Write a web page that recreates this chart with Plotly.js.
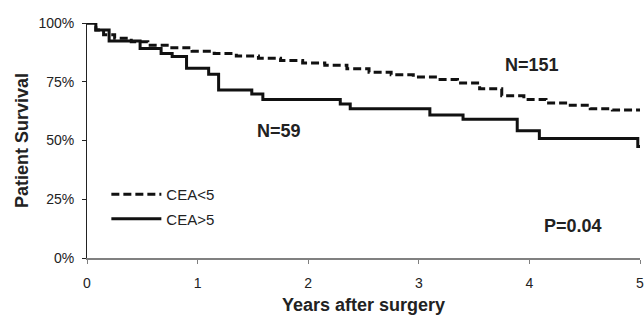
<!DOCTYPE html>
<html>
<head>
<meta charset="utf-8">
<script src="https://cdn.plot.ly/plotly-3.0.1.min.js"></script>
<style>html,body{margin:0;padding:0;background:#fff}#chart{width:644px;height:315px}</style>
</head>
<body>
<div id="chart"></div>
<script>
// CEA<5 (N=151) Kaplan-Meier step curve
var lowTimes = [0, 0.08, 0.15, 0.25, 0.4, 0.55, 0.75, 0.95, 1.15, 1.35, 1.55, 1.75, 1.95, 2.15, 2.35, 2.55, 2.75, 2.95, 3.15, 3.35, 3.55, 3.75, 3.95, 4.15, 4.35, 4.55, 4.75, 5.0];
var lowSurv  = [100, 97, 95, 93.5, 92, 90.5, 89.5, 88, 87, 86, 85, 84, 83, 82, 80.5, 79, 78, 77, 76, 74.5, 72, 69, 67.5, 66, 65, 63.5, 63, 62.5];
// CEA>5 (N=59) Kaplan-Meier step curve
var highTimes = [0, 0.08, 0.2, 0.48, 0.67, 0.77, 0.9, 1.1, 1.19, 1.49, 1.59, 2.29, 2.38, 3.1, 3.4, 3.89, 4.09, 4.98, 5.0];
var highSurv  = [100, 97, 92.3, 89.2, 87, 85.7, 80.7, 78.2, 71.5, 69.8, 67.5, 65.5, 63.5, 60.9, 59, 54.2, 50.9, 47.5, 47.5];
var seriesNames = ['CEA<5', 'CEA>5'];
var xTicks = [0, 1, 2, 3, 4, 5];
var yTicks = [0, 25, 50, 75, 100];
var yTickText = ['0%', '25%', '50%', '75%', '100%'];
var notes = [
  {text: 'N=151', x: 4.02, y: 82.1},
  {text: 'N=59', x: 1.74, y: 54},
  {text: 'P=0.04', x: 4.39, y: 13.6}
];

var traces = [
  {x: lowTimes, y: lowSurv, name: seriesNames[0], mode: 'lines', legendgroup: 'a',
   line: {shape: 'hv', color: '#111', width: 3, dash: '8px,4px'}},
  {x: highTimes, y: highSurv, name: seriesNames[1], mode: 'lines', legendgroup: 'b',
   line: {shape: 'hv', color: '#111', width: 3}}
];

var layout = {
  width: 644, height: 315,
  margin: {l: 87, r: 4, t: 23, b: 57},
  paper_bgcolor: '#fff', plot_bgcolor: '#fff',
  font: {family: 'Liberation Sans, Arial, sans-serif', size: 14, color: '#222'},
  showlegend: true,
  legend: {x: 0.035, y: 0.34, xanchor: 'left', yanchor: 'top', bgcolor: 'rgba(0,0,0,0)',
           font: {size: 15, color: '#222'}, tracegroupgap: 2, traceorder: 'grouped', itemwidth: 50},
  xaxis: {range: [0, 5], tickvals: xTicks, ticktext: xTicks.map(String),
          showgrid: false, zeroline: false, showline: true, linecolor: '#808080', linewidth: 1.5,
          ticks: 'outside', ticklen: 4, tickcolor: '#808080', ticklabelstandoff: 8,
          ticklabeloverflow: 'allow', tickfont: {size: 14},
          title: {text: '<b>Years after surgery</b>', font: {size: 18, color: '#222'}, standoff: 11}},
  yaxis: {range: [0, 100], tickvals: yTicks, ticktext: yTickText,
          showgrid: false, zeroline: false, showline: true, linecolor: '#222', linewidth: 1,
          ticks: 'outside', ticklen: 4, tickcolor: '#222', ticklabelstandoff: 5,
          tickfont: {size: 14},
          title: {text: '<b>Patient Survival</b>', font: {size: 18, color: '#222'}, standoff: 5}},
  annotations: notes.map(function(n){
    return {text: '<b>' + n.text + '</b>', x: n.x, y: n.y, xref: 'x', yref: 'y',
            showarrow: false, font: {size: 18, color: '#222'}};
  })
};

Plotly.newPlot('chart', traces, layout, {staticPlot: true, displayModeBar: false});
</script>
</body>
</html>
